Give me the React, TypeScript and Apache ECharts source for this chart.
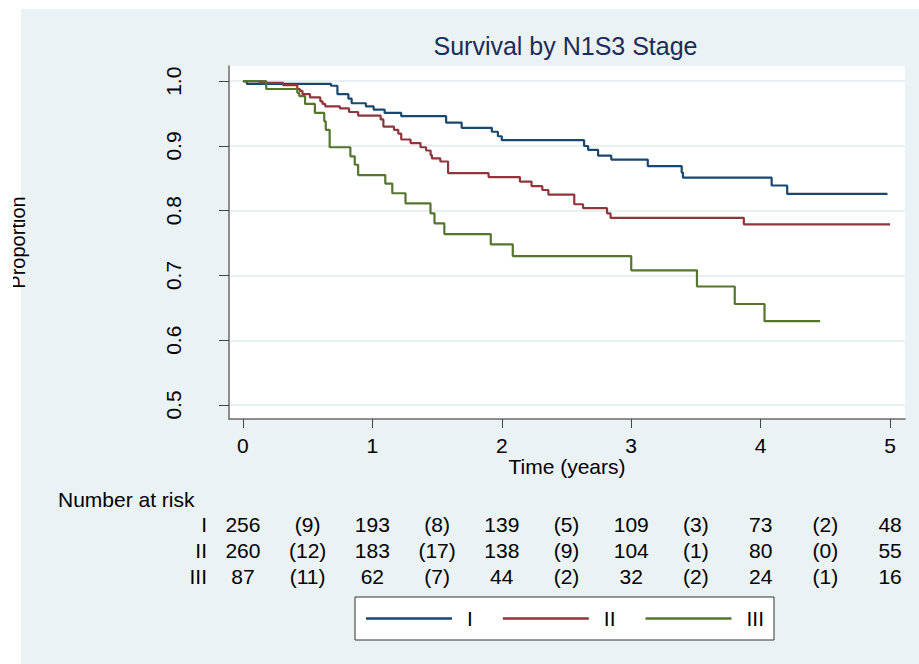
import React, { useEffect, useRef } from 'react';
import * as echarts from 'echarts';

const title = 'Survival by N1S3 Stage';
const xName = 'Time (years)';
const yName = 'Proportion';
const xTicks = [0, 1, 2, 3, 4, 5];
const yTicks = [0.5, 0.6, 0.7, 0.8, 0.9, 1.0];
const stageNames = ['I', 'II', 'III'];
const stageColors = ['#1a476f', '#90353b', '#55752f'];

const stageI: [number, number][] = [
  [0, 1.0], [0.03, 0.996], [0.68, 0.993], [0.73, 0.98], [0.815, 0.973], [0.84, 0.966],
  [0.95, 0.961], [1.01, 0.956], [1.095, 0.951], [1.223, 0.946], [1.57, 0.936], [1.69, 0.928],
  [1.923, 0.922], [1.97, 0.915], [2.0, 0.909], [2.636, 0.9], [2.667, 0.894], [2.744, 0.885],
  [2.846, 0.879], [3.128, 0.869], [3.39, 0.859], [3.4, 0.851], [4.085, 0.839], [4.205, 0.826],
  [4.98, 0.826],
];
const stageII: [number, number][] = [
  [0, 1.0], [0.128, 0.9975], [0.31, 0.994], [0.42, 0.988], [0.44, 0.985], [0.46, 0.98],
  [0.518, 0.975], [0.598, 0.969], [0.615, 0.965], [0.636, 0.961], [0.749, 0.958], [0.82, 0.9525],
  [0.89, 0.947], [1.064, 0.941], [1.085, 0.93], [1.167, 0.925], [1.2, 0.919], [1.223, 0.91],
  [1.295, 0.9045], [1.372, 0.898], [1.415, 0.893], [1.45, 0.886], [1.46, 0.881], [1.525, 0.876],
  [1.585, 0.858], [1.898, 0.852], [2.14, 0.845], [2.23, 0.838], [2.313, 0.832], [2.36, 0.825],
  [2.56, 0.81], [2.628, 0.804], [2.813, 0.796], [2.84, 0.789], [3.87, 0.779], [5.0, 0.779],
];
const stageIII: [number, number][] = [
  [0, 1.0], [0.18, 0.988], [0.42, 0.982], [0.435, 0.977], [0.48, 0.965], [0.556, 0.951],
  [0.628, 0.938], [0.64, 0.925], [0.67, 0.898], [0.83, 0.884], [0.864, 0.871], [0.89, 0.855],
  [1.1, 0.842], [1.154, 0.827], [1.256, 0.8115], [1.449, 0.796], [1.48, 0.7805], [1.556, 0.764],
  [1.915, 0.748], [2.085, 0.73], [3.0, 0.708], [3.508, 0.683], [3.8, 0.656], [4.03, 0.6295],
  [4.46, 0.6295],
];

const riskHeader = 'Number at risk';
const riskTimes = [0, 1, 2, 3, 4, 5];
const riskI = [256, 193, 139, 109, 73, 48];
const riskII = [260, 183, 138, 104, 80, 55];
const riskIII = [87, 62, 44, 32, 24, 16];
const eventsI = [9, 8, 5, 3, 2];
const eventsII = [12, 17, 9, 1, 0];
const eventsIII = [11, 7, 2, 2, 1];

const FONT = '"Liberation Sans", Arial, Helvetica, sans-serif';

export default function App() {
  const ref = useRef<HTMLDivElement>(null);
  useEffect(() => {
    const chart = echarts.init(ref.current!, null, { renderer: 'svg' });
    const seriesData = [stageI, stageII, stageIII];
    chart.setOption({
      animation: false,
      backgroundColor: '#eaf2f3',
      title: {
        text: title,
        left: 565.5,
        top: 33,
        padding: 0,
        textAlign: 'center',
        textStyle: { fontSize: 25, fontWeight: 'normal', color: '#1a2c5a', fontFamily: FONT },
      },
      grid: {
        left: 226, right: 14, top: 66, bottom: 245,
        show: true, backgroundColor: '#ffffff', borderWidth: 0,
      },
      legend: {
        data: stageNames,
        left: 355, top: 597,
        orient: 'horizontal',
        icon: 'rect',
        itemWidth: 86, itemHeight: 2.5, itemGap: 30,
        padding: [11, 10, 11, 11],
        backgroundColor: '#ffffff', borderColor: '#333333', borderWidth: 1, borderRadius: 0,
        selectedMode: false,
        textStyle: { fontSize: 21, color: '#000', fontFamily: FONT, padding: [0, 0, 0, 10] },
      },
      xAxis: {
        type: 'value',
        min: -0.1077, max: 5.1154,
        name: xName,
        nameLocation: 'middle',
        nameGap: 37,
        nameMoveOverlap: false,
        nameTextStyle: { fontSize: 21, color: '#000', fontFamily: FONT },
        axisLine: { show: true, onZero: false, lineStyle: { color: '#6b6b6b', width: 1.5 } },
        axisTick: { show: true, length: 9, customValues: xTicks, lineStyle: { color: '#444', width: 1 } },
        axisLabel: { customValues: xTicks, fontSize: 21, color: '#000', fontFamily: FONT, margin: 16 },
        splitLine: { show: false },
      },
      yAxis: {
        type: 'value',
        min: 0.4784, max: 1.0235,
        name: yName,
        nameLocation: 'middle',
        nameRotate: 90,
        nameGap: 201,
        nameMoveOverlap: false,
        nameTextStyle: { fontSize: 20, color: '#000', fontFamily: FONT },
        axisLine: { show: true, onZero: false, lineStyle: { color: '#6b6b6b', width: 1.5 } },
        axisTick: { show: true, length: 10, customValues: yTicks, lineStyle: { color: '#444', width: 1 } },
        axisLabel: {
          customValues: yTicks, rotate: 90, fontSize: 21, color: '#000', fontFamily: FONT, margin: 45,
          formatter: (v: number) => v.toFixed(1),
        },
        splitLine: { show: true, lineStyle: { color: '#e8f0f1', width: 2 } },
      },
      series: stageNames.map((n, i) => ({
        name: n,
        type: 'line',
        step: 'end',
        symbol: 'none',
        showSymbol: false,
        data: seriesData[i],
        color: stageColors[i],
        lineStyle: { color: stageColors[i], width: 2.2 },
      })),
    });

    const px = (t: number) => chart.convertToPixel({ xAxisIndex: 0 }, t) as number;
    const rows = [
      { label: stageNames[0], risk: riskI, events: eventsI, y: 524 },
      { label: stageNames[1], risk: riskII, events: eventsII, y: 550 },
      { label: stageNames[2], risk: riskIII, events: eventsIII, y: 576 },
    ];
    const ts = { fontSize: 21, fill: '#000', fontFamily: FONT, verticalAlign: 'middle' };
    const texts: any[] = [
      { type: 'text', x: 58, y: 499, style: { ...ts, text: riskHeader, align: 'left' } },
    ];
    rows.forEach((r) => {
      texts.push({ type: 'text', x: 207, y: r.y, style: { ...ts, text: r.label, align: 'right' } });
      r.risk.forEach((v, k) => {
        texts.push({ type: 'text', x: px(riskTimes[k]), y: r.y, style: { ...ts, text: String(v), align: 'center' } });
      });
      r.events.forEach((v, k) => {
        const mid = (riskTimes[k] + riskTimes[k + 1]) / 2;
        texts.push({ type: 'text', x: px(mid), y: r.y, style: { ...ts, text: `(${v})`, align: 'center' } });
      });
    });

    chart.setOption({
      graphic: [
        { type: 'rect', z: -1, shape: { x: 0, y: 0, width: 21, height: 664 }, style: { fill: '#ffffff' } },
        { type: 'rect', z: -1, shape: { x: 0, y: 0, width: 919, height: 9 }, style: { fill: '#ffffff' } },
        { type: 'rect', z: 100, shape: { x: 0, y: 0, width: 13, height: 664 }, style: { fill: '#ffffff' } },
        ...texts,
      ],
    });
    return () => chart.dispose();
  }, []);
  return <div ref={ref} style={{ position: 'absolute', left: 0, top: 0, width: 919, height: 664 }} />;
}
